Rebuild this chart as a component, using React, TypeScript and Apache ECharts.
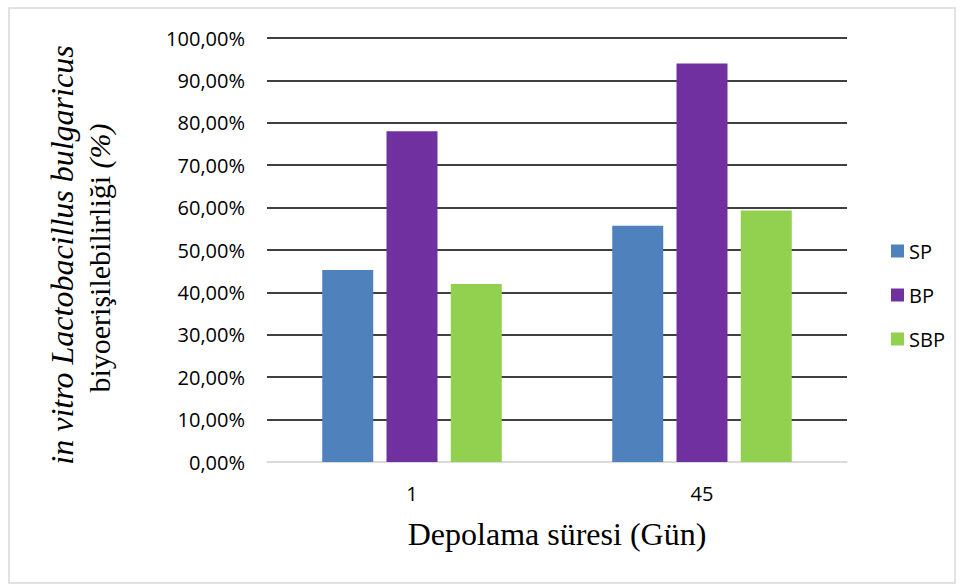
import React, { useEffect, useRef } from "react";
import * as echarts from "echarts";

const categories = ["1", "45"];
const seriesNames = ["SP", "BP", "SBP"];
const spValues = [45.3, 55.7];
const bpValues = [78.0, 94.0];
const sbpValues = [42.0, 59.3];
const colors = ["#4F81BD", "#7030A0", "#92D050"];
const yTitleLine1 = "in vitro Lactobacillus bulgaricus";
const yTitleLine2a = "biyoerişilebilirliği";
const yTitleLine2b = "(%)";
const xTitle = "Depolama süresi (Gün)";

export default function App() {
  const ref = useRef<HTMLDivElement>(null);
  useEffect(() => {
    if (!ref.current) return;
    const chart = echarts.init(ref.current, null, { renderer: "svg" });
    const values = [spValues, bpValues, sbpValues];
    const splitColors = ["#d9d9d9"].concat(Array(10).fill("#000000"));
    chart.setOption({
      animation: false,
      backgroundColor: "#ffffff",
      grid: { left: 267, right: 113, top: 38, bottom: 124, containLabel: false },
      legend: {
        orient: "vertical",
        left: 886,
        top: 236,
        itemWidth: 13,
        itemHeight: 13,
        itemGap: 24,
        icon: "rect",
        data: seriesNames,
        textStyle: { fontFamily: "Open Sans", fontSize: 20, color: "#000" },
      },
      xAxis: {
        type: "category",
        data: categories,
        axisTick: { show: false },
        axisLine: { show: true, lineStyle: { color: "#d9d9d9", width: 1.5 } },
        axisLabel: { fontFamily: "Open Sans", fontSize: 20, color: "#000", margin: 21 },
        name: xTitle,
        nameLocation: "middle",
        nameGap: 56,
        nameTextStyle: { fontFamily: "Liberation Serif", fontSize: 32, color: "#000" },
      },
      yAxis: {
        type: "value",
        min: 0,
        max: 100,
        interval: 10,
        axisLine: { show: false },
        axisTick: { show: false },
        axisLabel: {
          fontFamily: "Open Sans",
          fontSize: 20,
          color: "#000",
          margin: 22,
          formatter: (v: number) => v.toFixed(2).replace(".", ",") + "%",
        },
        splitLine: { show: true, lineStyle: { color: splitColors, width: 1.5 } },
      },
      series: seriesNames.map((name, i) => ({
        name,
        type: "bar",
        data: values[i],
        barWidth: 51,
        barGap: "26%",
        itemStyle: { color: colors[i] },
      })),
      graphic: [
        {
          type: "rect",
          shape: { x: 9, y: 8, width: 946, height: 575 },
          style: { fill: "none", stroke: "#d9d9d9", lineWidth: 1.5 },
          silent: true,
        },
        {
          type: "text",
          x: 62,
          y: 255,
          rotation: Math.PI / 2,
          style: {
            text: yTitleLine1,
            font: "italic 32px 'Liberation Serif'",
            fill: "#000",
            align: "center",
            verticalAlign: "middle",
          },
        },
        {
          type: "text",
          x: 99,
          y: 258,
          rotation: Math.PI / 2,
          style: {
            text: "{a|" + yTitleLine2a + "}{b|\u00a0" + yTitleLine2b + "}",
            align: "center",
            verticalAlign: "middle",
            fill: "#000",
            rich: {
              a: { fontFamily: "Liberation Serif", fontSize: 30, fontStyle: "normal", fill: "#000" },
              b: { fontFamily: "Liberation Serif", fontSize: 30, fontStyle: "italic", fill: "#000" },
            },
          },
        },
      ],
    });
    return () => chart.dispose();
  }, []);
  return (
    <div
      ref={ref}
      style={{ position: "fixed", left: 0, top: 0, width: 960, height: 586 }}
    />
  );
}
